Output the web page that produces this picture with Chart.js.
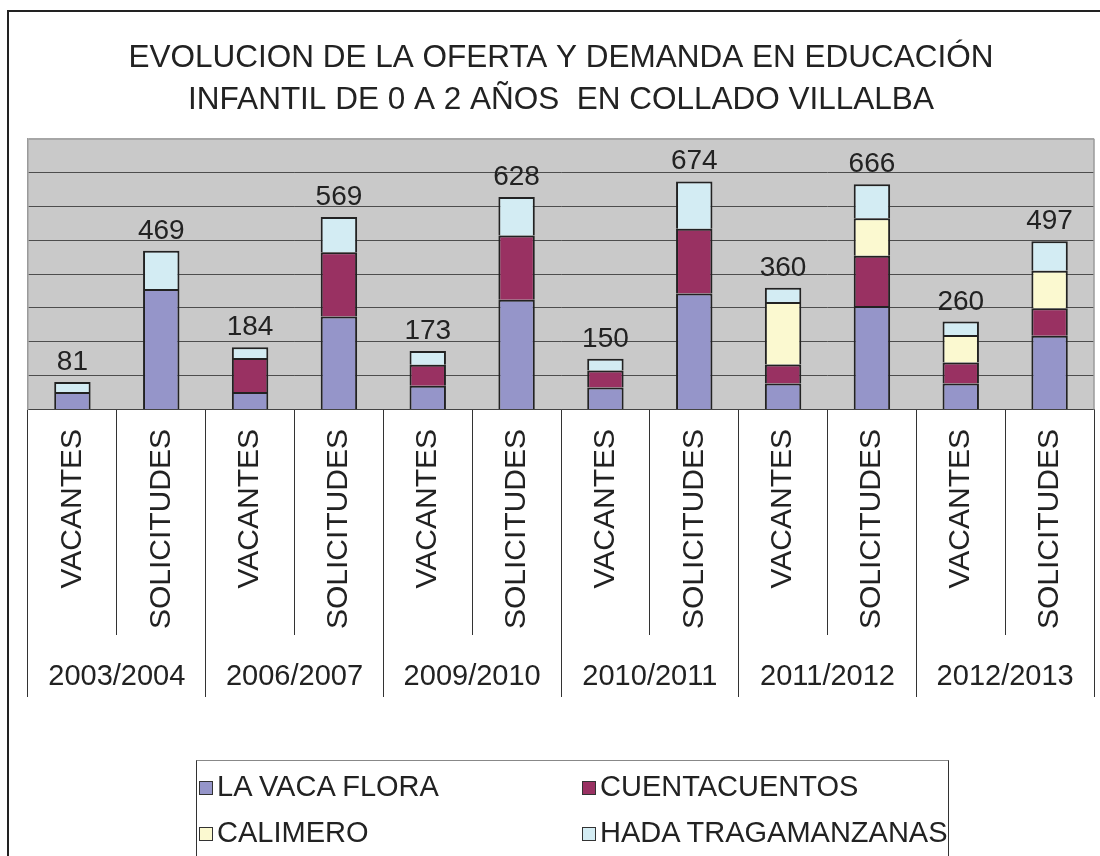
<!DOCTYPE html>
<html>
<head>
<meta charset="utf-8">
<script src="https://cdn.jsdelivr.net/npm/chart.js@4"></script>
<style>
    html, body { margin: 0; padding: 0; background: #fff; overflow: hidden; }
    #wrap { position: relative; width: 1100px; height: 856px; overflow: hidden; }
    #frame { position: absolute; left: 7px; top: 10px; width: 1200px; height: 1000px;
             border-left: 2px solid #222; border-top: 2px solid #222; }
    #chartBox { position: absolute; left: 0; top: 0; width: 1100px; height: 856px; }
    #legend { position: absolute; left: 196px; top: 760px; width: 753px; height: 120px;
              border: 1px solid #333; border-top-color: #888; box-sizing: border-box;
              padding-top: 2px; padding-left: 2px;
              display: grid; grid-template-columns: 383px auto; grid-auto-rows: 46px;
              font-family: 'Liberation Sans', Arial, sans-serif; font-size: 29px; color: #222; }
    #legend .item { line-height: 46px; white-space: nowrap; }
    #legend .sw { display: inline-block; width: 12px; height: 12px; border: 1px solid #333;
                  vertical-align: middle; margin-right: 4px; }
</style>
</head>
<body>
<div id="wrap">
    <div id="frame"></div>
    <div id="chartBox"><canvas id="ofertaChart"></canvas></div>
    <div id="legend"></div>
</div>
<script>
// Datos
const categories = [
    'VACANTES', 'SOLICITUDES', 'VACANTES', 'SOLICITUDES', 'VACANTES', 'SOLICITUDES',
    'VACANTES', 'SOLICITUDES', 'VACANTES', 'SOLICITUDES', 'VACANTES', 'SOLICITUDES'
];
const schoolYears = ['2003/2004', '2006/2007', '2009/2010', '2010/2011', '2011/2012', '2012/2013'];

const seriesNames = ['LA VACA FLORA', 'CUENTACUENTOS', 'CALIMERO', 'HADA TRAGAMANZANAS'];
const laVacaFlora       = [52, 356, 52, 275, 70, 324, 65, 343, 77, 306, 77, 218];
const cuentacuentos     = [0, 0, 100, 190, 62, 190, 50, 191, 56, 148, 62, 81];
const calimero          = [0, 0, 0, 0, 0, 0, 0, 0, 185, 111, 81, 111];
const hadaTragamanzanas = [29, 113, 32, 104, 41, 114, 35, 140, 42, 101, 40, 87];

const yMax = 800;
const yStep = 100;

const seriesValues = [laVacaFlora, cuentacuentos, calimero, hadaTragamanzanas];
const seriesColors = ['#9595c9', '#993162', '#fbf9d0', '#d3ecf3'];

const totals = categories.map((_, i) => seriesValues.reduce((s, arr) => s + arr[i], 0));

Chart.defaults.font.family = "'Liberation Sans', Arial, sans-serif";
Chart.defaults.color = '#222';

// fondo gris del área de trazado + borde derecho
const plotBackground = {
    id: 'plotBackground',
    beforeDraw(chart) {
        const { ctx, chartArea: a } = chart;
        ctx.save();
        ctx.fillStyle = '#c9c9c9';
        ctx.fillRect(a.left, a.top, a.right - a.left, a.bottom - a.top);
        ctx.restore();
    },
    beforeDatasetsDraw(chart) {
        const { ctx, chartArea: a } = chart;
        ctx.save();
        ctx.strokeStyle = '#9a9a9a';
        ctx.lineWidth = 1.5;
        ctx.beginPath();
        ctx.moveTo(a.right, a.top);
        ctx.lineTo(a.right, a.bottom);
        ctx.stroke();
        ctx.restore();
    }
};

// totales encima de cada barra
const totalLabels = {
    id: 'totalLabels',
    afterDatasetsDraw(chart) {
        const { ctx } = chart;
        const top = chart.getDatasetMeta(chart.data.datasets.length - 1);
        ctx.save();
        ctx.font = "28px 'Liberation Sans', Arial, sans-serif";
        ctx.fillStyle = '#222';
        ctx.textAlign = 'center';
        ctx.textBaseline = 'alphabetic';
        top.data.forEach((bar, i) => {
            ctx.fillText(String(totals[i]), bar.x, bar.y - 12);
        });
        ctx.restore();
    }
};

const ctx = document.getElementById('ofertaChart');

new Chart(ctx, {
    type: 'bar',
    data: {
        labels: categories,
        datasets: seriesNames.map((name, k) => ({
            label: name,
            data: seriesValues[k],
            backgroundColor: seriesColors[k],
            borderColor: '#222',
            borderWidth: 2,
            barPercentage: 0.41,
            categoryPercentage: 1
        }))
    },
    options: {
        responsive: true,
        maintainAspectRatio: false,
        animation: false,
        layout: {
            padding: { top: 0, left: 28, right: 6, bottom: 159 }
        },
        plugins: {
            legend: { display: false },
            tooltip: { enabled: false },
            title: {
                display: true,
                text: ['EVOLUCION DE LA OFERTA Y DEMANDA EN EDUCACIÓN',
                       'INFANTIL DE 0 A 2 AÑOS  EN COLLADO VILLALBA'],
                color: '#222',
                font: { size: 31.5, weight: 'normal', lineHeight: 1.33 },
                padding: { top: 37, bottom: 18 }
            }
        },
        scales: {
            x: {
                stacked: true,
                offset: true,
                weight: 0,
                grid: {
                    offset: true,
                    drawOnChartArea: false,
                    drawTicks: true,
                    tickLength: 225.5,
                    color: '#333',
                    lineWidth: 1
                },
                border: { display: true, color: '#444', width: 1 },
                ticks: {
                    autoSkip: false,
                    minRotation: 90,
                    maxRotation: 90,
                    padding: -206,
                    color: '#222',
                    font: { size: 30 }
                },
                afterFit(scale) { scale.height = 225.5; }
            },
            x2: {
                type: 'category',
                position: 'bottom',
                labels: schoolYears,
                offset: true,
                weight: 1,
                grid: {
                    offset: true,
                    drawOnChartArea: false,
                    drawTicks: true,
                    tickLength: 62,
                    color: '#333',
                    lineWidth: 1
                },
                border: { display: false },
                ticks: {
                    autoSkip: false,
                    maxRotation: 0,
                    padding: -37,
                    color: '#222',
                    font: { size: 29 }
                },
                afterFit(scale) { scale.height = 62; }
            },
            y: {
                stacked: true,
                min: 0,
                max: yMax,
                ticks: { display: false, stepSize: yStep },
                grid: {
                    drawTicks: false,
                    color: (c) => c.tick && c.tick.value === yMax ? '#a6a6a6' : '#4d4d4d',
                    lineWidth: (c) => c.tick && c.tick.value === yMax ? 2 : 1
                },
                border: { display: true, color: '#9a9a9a', width: 1.5 }
            }
        }
    },
    plugins: [plotBackground, totalLabels]
});

// leyenda en dos columnas
const legendEl = document.getElementById('legend');
seriesNames.forEach((name, k) => {
    const item = document.createElement('div');
    item.className = 'item';
    const sw = document.createElement('span');
    sw.className = 'sw';
    sw.style.background = seriesColors[k];
    item.appendChild(sw);
    item.appendChild(document.createTextNode(name));
    legendEl.appendChild(item);
});
</script>
</body>
</html>
